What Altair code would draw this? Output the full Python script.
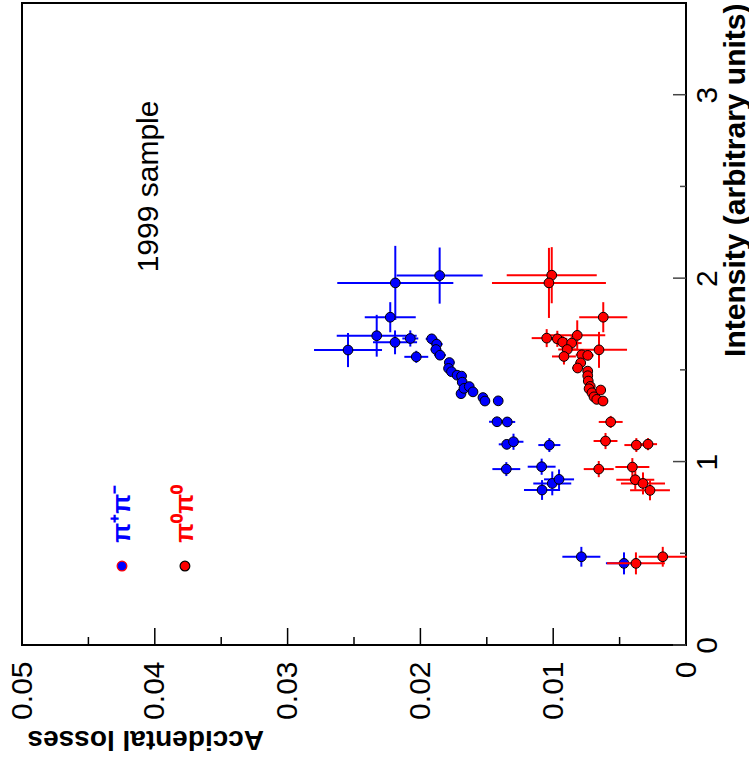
import altair as alt
import pandas as pd

# ---------------- data ----------------
blue_loss = [0.02189, 0.01855, 0.02227, 0.02329, 0.02545, 0.02191, 0.02076, 0.02031, 0.01915, 0.01877,
             0.01883, 0.01852, 0.01782, 0.01788, 0.01766, 0.01724, 0.01690, 0.01685, 0.01694, 0.01672,
             0.01632, 0.01604, 0.01529, 0.01514, 0.01414, 0.01423, 0.01346, 0.01350, 0.01299, 0.01029,
             0.01353, 0.01087, 0.01007, 0.00956, 0.01084, 0.00788, 0.00467]
blue_loss_err = [0.00437, 0.00324, 0.00192, 0.00301, 0.00256, 0.00166, 0.00060, 0.00090, 0.00045, 0.00045,
                 0.00040, 0.00045, 0.00040, 0.00035, 0.00035, 0.00035, 0.00035, 0.00035, 0.00035, 0.00035,
                 0.00035, 0.00035, 0.00035, 0.00035, 0.00035, 0.00060, 0.00060, 0.00060, 0.00075, 0.00083,
                 0.00105, 0.00105, 0.00143, 0.00113, 0.00136, 0.00143, 0.00136]
blue_int = [1.974, 2.014, 1.787, 1.686, 1.608, 1.650, 1.671, 1.571, 1.669, 1.640,
            1.611, 1.580, 1.540, 1.508, 1.490, 1.471, 1.466, 1.433, 1.370, 1.399,
            1.409, 1.380, 1.349, 1.330, 1.331, 1.217, 1.216, 1.094, 1.108, 1.090,
            0.959, 0.972, 0.881, 0.903, 0.845, 0.481, 0.445]
blue_int_err = [0.202, 0.153, 0.082, 0.114, 0.093, 0.065, 0.044, 0.033, 0.027, 0.022,
                0.022, 0.022, 0.020, 0.020, 0.020, 0.020, 0.020, 0.020, 0.020, 0.020,
                0.020, 0.020, 0.020, 0.020, 0.020, 0.027, 0.027, 0.027, 0.044, 0.038,
                0.038, 0.044, 0.065, 0.054, 0.054, 0.054, 0.060]

red_loss = [0.01011, 0.01032, 0.00623, 0.00819, 0.00655, 0.01049, 0.00969, 0.00929, 0.00861, 0.00894,
            0.00919, 0.00785, 0.00740, 0.00793, 0.00816, 0.00740, 0.00740, 0.00736, 0.00721, 0.00730,
            0.00708, 0.00642, 0.00693, 0.00672, 0.00625, 0.00567, 0.00606, 0.00374, 0.00286, 0.00657,
            0.00404, 0.00382, 0.00324, 0.00271, 0.00377, 0.00175]
red_loss_err = [0.00339, 0.00429, 0.00181, 0.00211, 0.00211, 0.00113, 0.00075, 0.00068, 0.00075, 0.00068,
                0.00090, 0.00045, 0.00045, 0.00040, 0.00040, 0.00035, 0.00035, 0.00035, 0.00035, 0.00035,
                0.00035, 0.00035, 0.00035, 0.00035, 0.00035, 0.00090, 0.00090, 0.00090, 0.00068, 0.00113,
                0.00128, 0.00143, 0.00166, 0.00150, 0.00218, 0.00181]
red_int = [2.016, 1.974, 1.787, 1.688, 1.609, 1.673, 1.669, 1.651, 1.646, 1.611,
           1.573, 1.582, 1.579, 1.538, 1.510, 1.493, 1.468, 1.439, 1.410, 1.397,
           1.375, 1.390, 1.353, 1.339, 1.330, 1.216, 1.112, 1.090, 1.095, 0.959,
           0.970, 0.901, 0.881, 0.843, 0.445, 0.481]
red_int_err = [0.153, 0.191, 0.082, 0.082, 0.098, 0.049, 0.044, 0.038, 0.038, 0.033,
               0.044, 0.027, 0.027, 0.022, 0.022, 0.020, 0.020, 0.020, 0.020, 0.020,
               0.020, 0.020, 0.020, 0.020, 0.020, 0.033, 0.044, 0.038, 0.033, 0.044,
               0.049, 0.054, 0.060, 0.054, 0.060, 0.054]

x_tick_major = [0.0, 0.01, 0.02, 0.03, 0.04, 0.05]
x_tick_minor = [0.005, 0.015, 0.025, 0.035, 0.045]
y_tick_major = [0, 1, 2, 3]
y_tick_minor = [0.5, 1.5, 2.5]

legend_names = ["\u03c0\u207a\u03c0\u207b", "\u03c0\u2070\u03c0\u2070"]
legend_colors = ["#0000ff", "#ff0000"]
legend_strokes = ["#ff0000", "#000000"]
legend_loss = [0.04247, 0.03773]
legend_text_int = [0.715, 0.715]
legend_marker_int = [0.4305, 0.4305]

note_text = ["1999 sample"]
note_loss = [0.0404]
note_int = [2.50]

# ---------------- chart ----------------
W, H = 664, 642
FONT = "Liberation Sans"

xs = alt.Scale(domain=[0, 0.05], reverse=True, nice=False, zero=False)
ys = alt.Scale(domain=[0, 3.5], nice=False, zero=False)

x_axis = alt.Axis(values=x_tick_major, labelExpr="datum.value == 0 ? '0' : format(datum.value, '.2f')",
                  labelAngle=270, labelAlign="right", labelBaseline="middle", labelFontSize=30,
                  labelFont=FONT, labelColor="black", labelPadding=16, labelFlush=False,
                  labelOverlap=False, labelBound=False, ticks=False, domain=False, grid=False,
                  title="Accidental losses", titleFont=FONT, titleFontSize=28, titleFontWeight="bold",
                  titleColor="black", titleAngle=180, titleAlign="right", titleBaseline="middle",
                  titleX=5, titleY=93)
y_axis = alt.Axis(orient="right", values=y_tick_major, format="d", labelAngle=270, labelAlign="center",
                  labelBaseline="top", labelFontSize=30, labelFont=FONT, labelColor="black",
                  labelPadding=6, labelFlush=False, labelOverlap=False, labelBound=False,
                  ticks=False, domain=False, grid=False,
                  title="Intensity (arbitrary units)", titleFont=FONT, titleFontSize=30,
                  titleFontWeight="bold", titleColor="black", titleAngle=270, titleAlign="right",
                  titleBaseline="middle", titleX=49, titleY=0)


def X(field):
    return alt.X(field, type="quantitative", scale=xs, axis=x_axis)


def Y(field):
    return alt.Y(field, type="quantitative", scale=ys, axis=y_axis)


def frame(loss, lerr, inten, ierr):
    return pd.DataFrame({
        "loss": loss, "inten": inten,
        "l_lo": [a - b for a, b in zip(loss, lerr)], "l_hi": [a + b for a, b in zip(loss, lerr)],
        "i_lo": [a - b for a, b in zip(inten, ierr)], "i_hi": [a + b for a, b in zip(inten, ierr)],
    })


blue = frame(blue_loss, blue_loss_err, blue_int, blue_int_err)
red = frame(red_loss, red_loss_err, red_int, red_int_err)


def series(df, color):
    hx = alt.Chart(df).mark_rule(color=color, strokeWidth=2).encode(x=X("l_lo"), x2="l_hi", y=Y("inten"))
    vy = alt.Chart(df).mark_rule(color=color, strokeWidth=2).encode(y=Y("i_lo"), y2="i_hi", x=X("loss"))
    pt = alt.Chart(df).mark_point(shape="circle", filled=True, size=95, fill=color, fillOpacity=1,
                                  stroke="black", strokeWidth=1, opacity=1).encode(x=X("loss"), y=Y("inten"))
    return [hx, vy, pt]


xt_major = alt.Chart(pd.DataFrame({"v": x_tick_major})).mark_rule(color="black", strokeWidth=1.5).encode(
    x=X("v"), y=alt.value(H), y2=alt.value(H - 17))
xt_minor = alt.Chart(pd.DataFrame({"v": x_tick_minor})).mark_rule(color="black", strokeWidth=1.5).encode(
    x=X("v"), y=alt.value(H), y2=alt.value(H - 8))
yt_major = alt.Chart(pd.DataFrame({"v": y_tick_major})).mark_rule(color="#444", strokeWidth=1.5).encode(
    y=Y("v"), x=alt.value(W), x2=alt.value(W - 13))
yt_minor = alt.Chart(pd.DataFrame({"v": y_tick_minor})).mark_rule(color="#444", strokeWidth=1.5).encode(
    y=Y("v"), x=alt.value(W), x2=alt.value(W - 6))

leg = pd.DataFrame({"name": legend_names, "c": legend_colors, "s": legend_strokes,
                    "loss": legend_loss, "ti": legend_text_int, "mi": legend_marker_int})
leg_text = alt.Chart(leg).mark_text(angle=270, align="center", baseline="middle", font=FONT,
                                    fontSize=26, fontWeight="bold").encode(
    x=X("loss"), y=Y("ti"), text="name:N", color=alt.Color("c:N", scale=None))
leg_pts = alt.Chart(leg).mark_point(shape="circle", filled=True, size=95, fillOpacity=1, strokeWidth=1.2,
                                    opacity=1).encode(
    x=X("loss"), y=Y("mi"), fill=alt.Fill("c:N", scale=None), stroke=alt.Stroke("s:N", scale=None))

note = alt.Chart(pd.DataFrame({"t": note_text, "loss": note_loss, "inten": note_int})).mark_text(
    angle=270, align="center", baseline="middle", font=FONT, fontSize=30, color="black").encode(
    x=X("loss"), y=Y("inten"), text="t:N")

layers = [xt_major, xt_minor, yt_major, yt_minor] + series(blue, "#0000ff") + series(red, "#ff0000") + \
    [leg_pts, leg_text, note]

chart = alt.layer(*layers).properties(
    width=W, height=H,
    autosize=alt.AutoSizeParams(type="none"),
    padding={"left": 22, "top": 3, "right": 63, "bottom": 118},
    background="white",
).configure_view(stroke="black", strokeWidth=2)

chart.save("out.html", embed_options={"renderer": "svg", "actions": False})
